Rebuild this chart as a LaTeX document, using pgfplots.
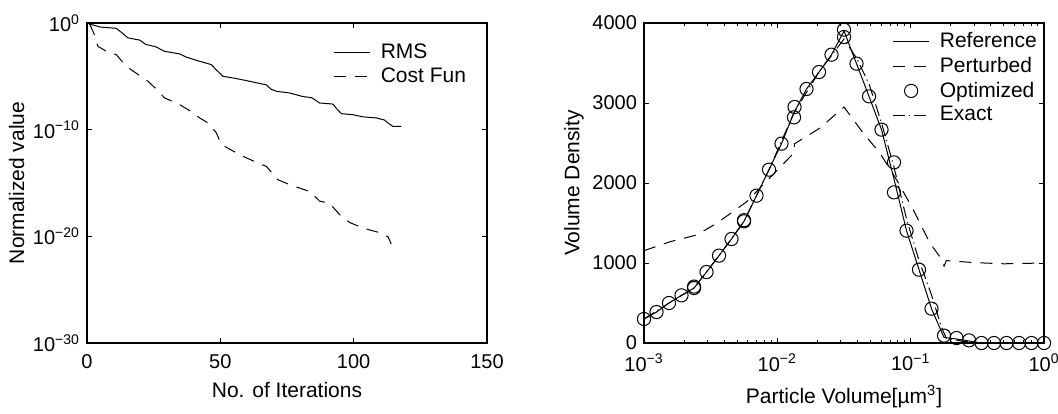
\documentclass[border=0pt]{standalone}
\usepackage{fontspec}
\setmainfont{Liberation Sans}
\usepackage{pgfplots}
\pgfplotsset{compat=1.18}

\pgfplotsset{
  mat/.style={
    scale only axis, width=200pt, height=160pt,
    anchor=south west,
    tick align=inside,
    major tick length=2.5pt, minor tick length=1.5pt,
    axis line style={line width=0.6pt},
    every tick/.style={black, line width=0.5pt},
    tick label style={font=\fontsize{10}{11}\selectfont},
    xticklabel style={yshift=-2pt},
    label style={font=\fontsize{10.5}{12}\selectfont},
    ylabel shift=-2.5pt,
    /pgf/number format/assume math mode=true,
    /pgf/number format/set thousands separator={},
    legend style={draw=none, fill=none, font=\fontsize{10.5}{12}\selectfont,
      row sep=-0.8pt, column sep=3pt, inner sep=1pt},
    legend cell align=left,
    legend image code/.code={\draw[mark repeat=2,mark phase=2,#1]
      plot coordinates {(0cm,0cm) (0.32cm,0cm) (0.64cm,0cm)};},
  },
}

\begin{document}
\begin{tikzpicture}
%% left: convergence history
\begin{axis}[mat, at={(43.5pt,35pt)},
  xmin=0, xmax=150, ymode=log, ymin=1e-30, ymax=1,
  xtick={0,50,100,150},
  ytick={1e-30,1e-20,1e-10,1}, yminorticks=false,
  yticklabels={10\textsuperscript{−30},10\textsuperscript{−20},10\textsuperscript{−10},10\textsuperscript{0}},
  xlabel={No. of Iterations}, ylabel={Normalized value},
  legend style={at={(0.61,0.955)}, anchor=north west},
  ]
\addplot[black, line width=0.5pt] coordinates {
 (0.5,1) (1,0.794) (5,0.417) (11,0.316) (13,0.126) (15.4,0.0398) (19.75,0.0251)
 (22,0.01) (26,5.62e-3) (29,2.24e-3) (34.75,1.26e-3) (37.25,6.31e-4) (41,3.16e-4)
 (46.6,1.26e-4) (48.5,3.98e-5) (51,1e-5) (54.75,7.08e-6) (59.75,3.98e-6)
 (67.25,1.58e-6) (69,6.31e-7) (71,3.98e-7) (76,2.75e-7) (81,1.26e-7) (84.25,1e-7)
 (87.25,3.16e-8) (92.25,2.51e-8) (93.5,1e-8) (95.4,3.16e-9) (99.75,2.51e-9)
 (103.5,1.58e-9) (108.5,1.26e-9) (111.6,7.94e-10) (113,3.98e-10) (114.75,2.0e-10)
 (117.9,2.0e-10)};
\addplot[black, line width=0.5pt, dash pattern=on 6pt off 4.5pt] coordinates {
 (1,0.8) (2.6,0.1) (4.1,6.46e-3) (7.25,2.24e-3) (11,1.07e-3) (14.75,8.71e-5)
 (19.75,1.15e-5) (22.9,3.39e-6) (26,6.31e-7) (29.1,9.33e-8) (34.1,2.75e-8)
 (37.9,7.5e-9) (42.25,1.26e-9) (45.4,4.22e-10) (48.5,5.01e-11) (50.4,3.98e-12)
 (54.75,1e-12) (58.5,3.16e-13) (63.5,8.71e-14) (67.25,3.63e-14) (71.6,2.0e-15)
 (76,7.08e-16) (83.5,1.58e-16) (87.25,2.0e-17) (91,1.26e-17) (94.75,1.07e-18)
 (98.5,2.0e-19) (102.25,7.94e-20) (106,3.98e-20) (110.4,2.0e-20) (112.9,8.71e-21)
 (114.1,2.0e-21)};
\legend{RMS,Cost Fun}
\end{axis}

%% right: volume density distribution
\begin{axis}[mat, at={(322pt,35pt)},
  xmode=log, xmin=1e-3, xmax=1, ymin=0, ymax=4000,
  xtick={1e-3,1e-2,1e-1,1},
  xticklabels={10\textsuperscript{−3},10\textsuperscript{−2},10\textsuperscript{−1},10\textsuperscript{0}},
  ytick={0,1000,2000,3000,4000},
  xlabel={Particle Volume[µm\textsuperscript{3}]}, ylabel={Volume Density},
  legend style={at={(0.615,0.99)}, anchor=north west},
  ]
%% Reference
\addplot[black, line width=0.5pt] coordinates {
 (0.001,300) (0.0012409,387) (0.0015399,500) (0.0019110,596) (0.0023714,687)
 (0.0029427,887) (0.0036517,1092) (0.0045315,1300) (0.0056234,1521)
 (0.0069783,1842) (0.0086596,2167) (0.010746,2492) (0.013335,2880)
 (0.016548,3175) (0.020535,3387) (0.025483,3604) (0.031623,3900)
 (0.039242,3492) (0.048697,3083) (0.060430,2667) (0.074989,2050)
 (0.093057,1404) (0.115478,917) (0.143301,429) (0.177828,70) (0.220673,50)
 (0.273842,25) (0.339821,0) (0.421697,0) (0.523299,0) (0.649382,0)
 (0.805842,0) (1,0)};
%% Perturbed
\addplot[black, line width=0.5pt, dash pattern=on 6pt off 4.5pt] coordinates {
 (0.001,1154) (0.00157,1266) (0.00248,1350) (0.00351,1496) (0.00589,1766)
 (0.0133,2375) (0.01345,2490) (0.0209,2688) (0.031623,2950) (0.044,2625)
 (0.0587,2375) (0.0783,2042) (0.1045,1667) (0.1393,1250) (0.170,1050)
 (0.178,960) (0.185,1030) (0.30,1005) (0.5,990) (1,1000)};
%% Optimized
\addplot[black, only marks, mark=o, mark size=3.3pt, line width=0.5pt] coordinates {
 (0.001,300) (0.0012409,387) (0.0015399,500) (0.0019110,596) (0.0023714,687)
 (0.0023714,705) (0.0029427,887) (0.0036517,1092) (0.0045315,1300)
 (0.0056234,1521) (0.0056234,1535) (0.0069783,1842) (0.0086596,2167)
 (0.010746,2492) (0.013335,2821) (0.013460,2950) (0.016548,3175)
 (0.020535,3387) (0.025483,3604) (0.031623,3917) (0.031623,3825)
 (0.039242,3492) (0.048697,3083) (0.060430,2667) (0.074989,2258)
 (0.074989,1883) (0.093057,1404) (0.115478,917) (0.143301,429) (0.177828,92)
 (0.220673,62) (0.273842,33) (0.339821,0) (0.421697,0) (0.523299,0)
 (0.649382,0) (0.805842,0) (1,0)};
%% Exact
\addplot[black, line width=0.5pt, dash pattern=on 6pt off 2pt on 0.6pt off 2pt] coordinates {
 (0.001,300) (0.0015399,500) (0.0023714,687) (0.0036517,1092) (0.0056234,1521)
 (0.0086596,2167) (0.013335,2880) (0.020535,3387) (0.031623,3800)
 (0.039242,3560) (0.048697,3240) (0.060430,2750) (0.074989,2200)
 (0.093057,1550) (0.115478,1030) (0.143301,600) (0.170,200) (0.185,60)
 (0.25,20) (0.34,0) (1,0)};
\legend{Reference,Perturbed,Optimized,Exact}
\end{axis}
\pgfresetboundingbox
\useasboundingbox (0,0) rectangle (529pt,206.5pt);
\end{tikzpicture}
\end{document}
